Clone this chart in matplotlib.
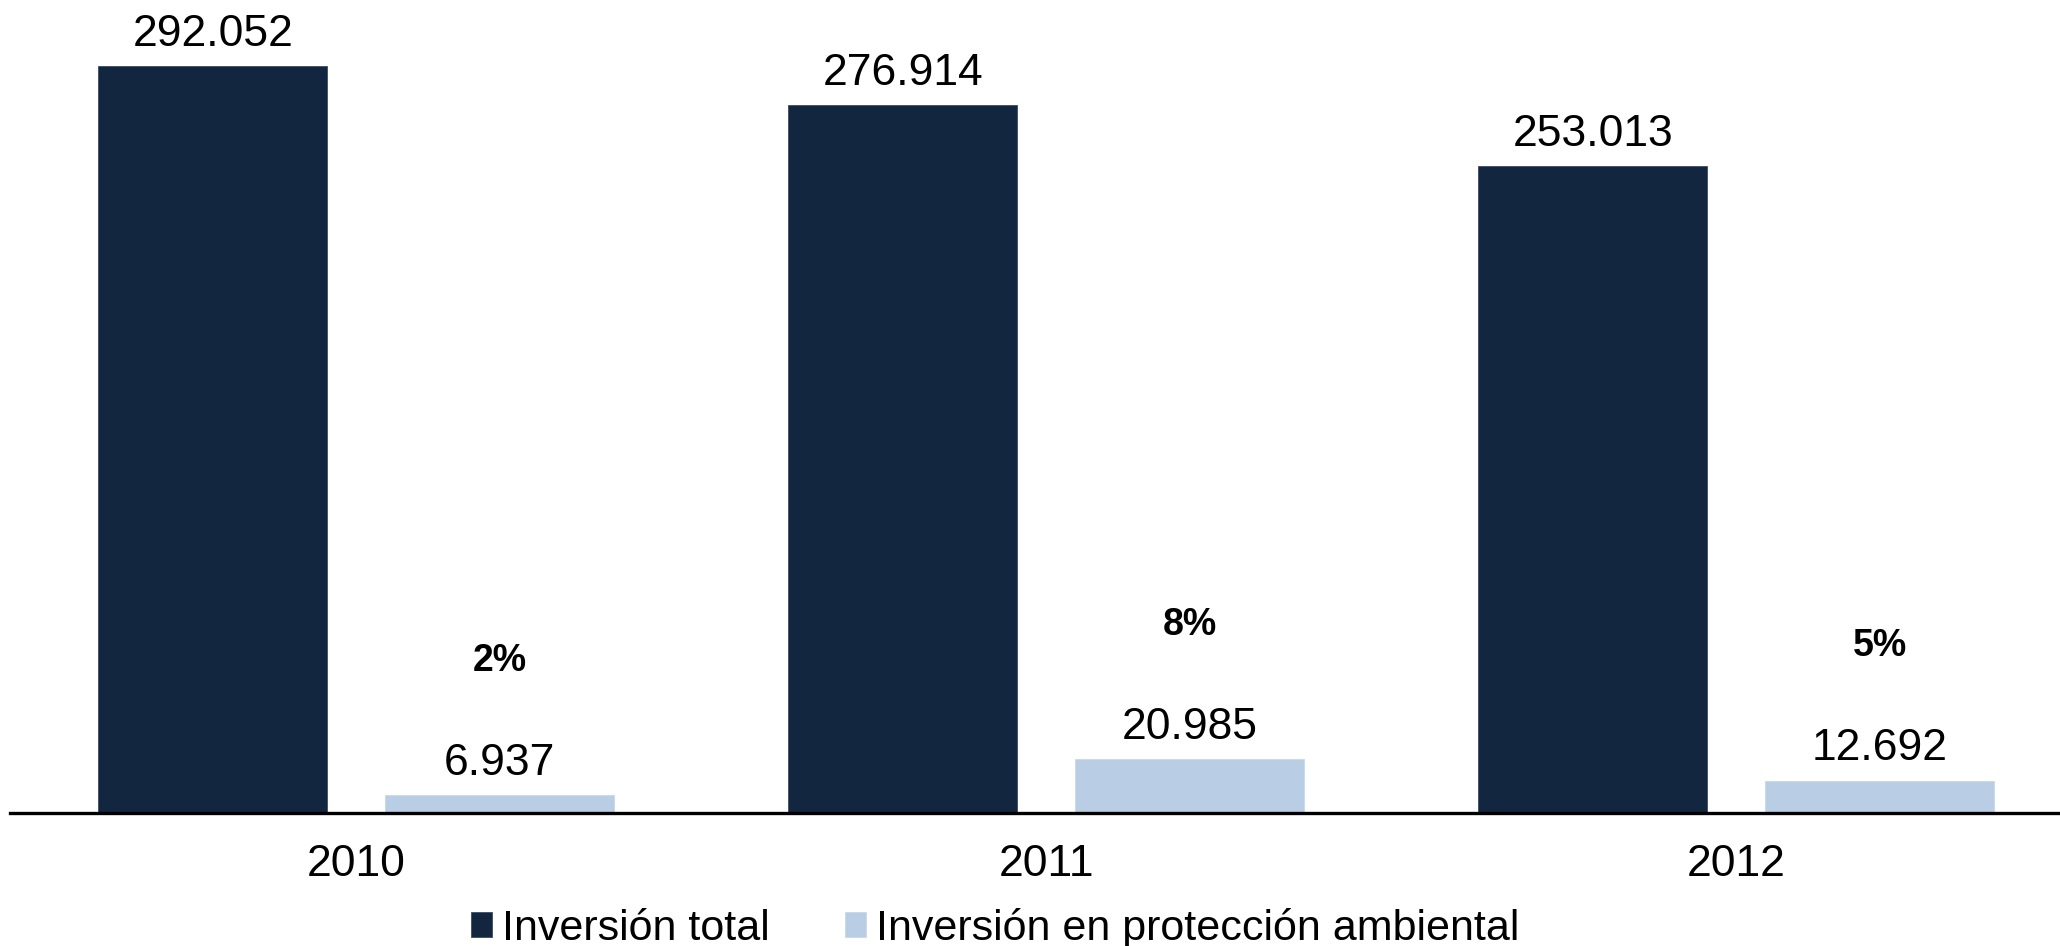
import matplotlib
matplotlib.use("Agg")
import matplotlib.pyplot as plt
import numpy as np

years = ["2010", "2011", "2012"]
inversion_total = [292052, 276914, 253013]
inversion_ambiental = [6937, 20985, 12692]
series_names = ["Inversión total", "Inversión en protección ambiental"]

plt.rcParams['font.family'] = ['Liberation Sans', 'DejaVu Sans']

DPI = 100
W, H = 2060, 946
fig = plt.figure(figsize=(W / DPI, H / DPI), dpi=DPI)
ax = fig.add_axes([10 / W, (H - 813) / H, (W - 10) / W, (813 - 20) / H])

dark = '#13263F'
light = '#B9CDE4'
bw = 0.332
off = 0.208
x = np.arange(len(years))

b1 = ax.bar(x - off, inversion_total, bw, color=dark, edgecolor='#3A4C66', linewidth=0.6,
            label=series_names[0])
b2 = ax.bar(x + off, inversion_ambiental, bw, color=light, edgecolor='#C9D8EA', linewidth=0.6,
            label=series_names[1])

def fmt(v):
    return f"{v:,}".replace(",", ".")

for rects, vals in ((b1, inversion_total), (b2, inversion_ambiental)):
    for r, v in zip(rects, vals):
        ax.annotate(fmt(v), (r.get_x() + r.get_width() / 2, v), xytext=(0, 8),
                    textcoords='offset points', ha='center', va='bottom', fontsize=32)

for r, t, a in zip(b2, inversion_total, inversion_ambiental):
    pct = f"{round(a / t * 100):d}%"
    ax.annotate(pct, (r.get_x() + r.get_width() / 2, a), xytext=(0, 97),
                textcoords='offset points', ha='center', va='center', fontsize=27,
                fontweight='bold')

ax.set_xlim(-0.502, 2.469)
ax.set_ylim(0, 310000)
ax.set_xticks(x)
ax.set_xticklabels(years, fontsize=32)
ax.tick_params(axis='x', length=0, pad=22)
ax.set_yticks([])
for s in ('top', 'right', 'left'):
    ax.spines[s].set_visible(False)
ax.spines['bottom'].set_linewidth(2.4)
ax.spines['bottom'].set_color('black')

fig.legend(handles=[b1, b2], labels=series_names, loc='center', bbox_to_anchor=(0.483, 0.019),
           ncol=2, frameon=False, fontsize=31, handlelength=0.5, handleheight=0.5,
           handletextpad=0.22, columnspacing=1.75, borderpad=0)

fig.savefig("out.png", dpi=DPI)
